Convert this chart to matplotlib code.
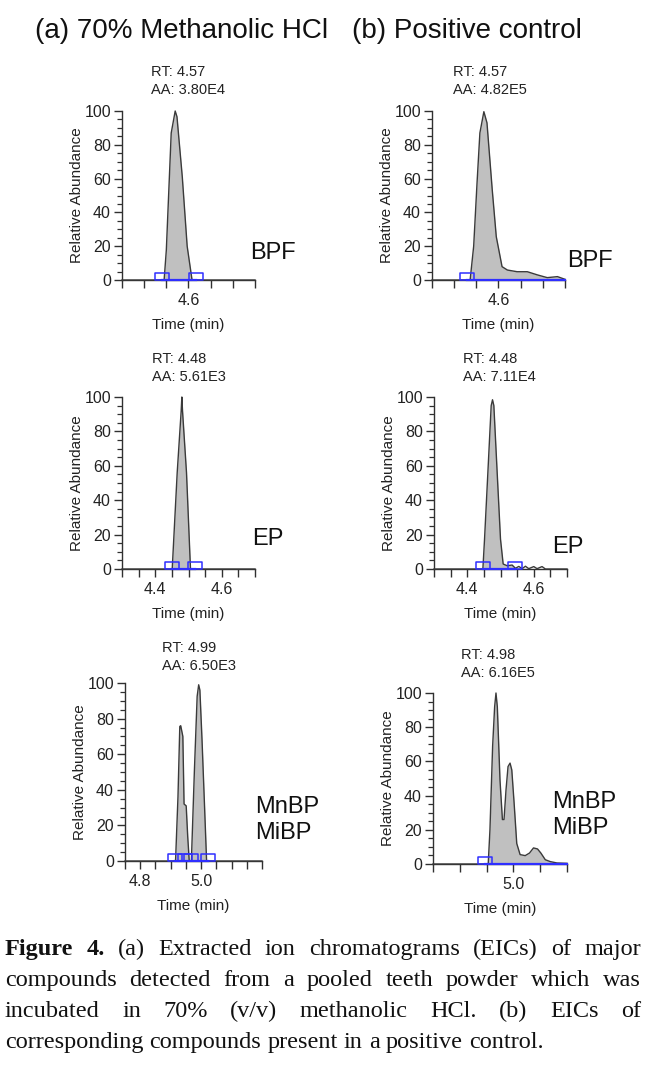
import numpy as np
import matplotlib
matplotlib.use("Agg")
import matplotlib.pyplot as plt
from matplotlib.path import Path

W, H = 652, 1068
plt.rcParams['font.family'] = ['Liberation Sans', 'DejaVu Sans']

# ---- data ----
bpf_a_t = [4.45, 4.541, 4.545, 4.550, 4.561, 4.570, 4.574, 4.586, 4.597, 4.608, 4.618, 4.75]
bpf_a_y = [0, 0, 0, 17.8, 87, 100, 96.6, 61, 20, 0, 0, 0]
bpf_a_marks = [4.541, 4.618]

bpf_b_t = [4.45, 4.530, 4.536, 4.544, 4.5515, 4.558, 4.567, 4.574, 4.586, 4.595, 4.608,
           4.620, 4.642, 4.665, 4.688, 4.710, 4.733, 4.75]
bpf_b_y = [0, 0, 0, 20, 57, 87, 99.6, 93, 53, 25.6, 7.9, 5.9, 4.9, 4.9, 3, 1.4, 2, 0.4]
bpf_b_marks = [4.530]

ep_a_t = [4.30, 4.449, 4.451, 4.466, 4.478, 4.480, 4.482, 4.494, 4.506, 4.519, 4.70]
ep_a_y = [0, 0, 0, 56, 92, 100, 92, 56, 0, 0, 0]
ep_a_marks = [4.451, 4.519]

ep_b_t = [4.30, 4.445, 4.447, 4.452, 4.462, 4.472, 4.476, 4.480, 4.490, 4.500, 4.508, 4.520,
          4.535, 4.545, 4.555, 4.565, 4.575, 4.585, 4.600, 4.610, 4.625, 4.635, 4.70]
ep_b_y = [0, 0, 0, 17.4, 56, 95, 98.4, 95, 56, 17.4, 2.9, 1.9,
          2.3, 0.4, 1.5, 0.2, 1.6, 0.2, 1.4, 0.2, 1.4, 0, 0]
ep_b_marks = [4.447, 4.545]

mbp_a_t = [4.75, 4.913, 4.916, 4.924, 4.930, 4.933, 4.940, 4.944, 4.951, 4.956, 4.961,
           4.968, 4.978, 4.987, 4.992, 4.996, 5.003, 5.011, 5.018, 5.022, 5.2]
mbp_a_y = [0, 0, 0, 36, 75.6, 76, 70, 32, 31, 13.7, 0,
           0, 51, 92.5, 99, 96, 68, 32, 0, 0, 0]
mbp_a_marks = [4.913, 4.946, 4.968, 5.022]

mbp_b_t = [4.70, 4.8925, 4.906, 4.9125, 4.9225, 4.930, 4.935, 4.940, 4.950, 4.959, 4.965,
           4.9725, 4.980, 4.9875, 4.994, 5.0025, 5.0125, 5.025, 5.044, 5.060, 5.075,
           5.090, 5.1025, 5.119, 5.1375, 5.1625, 5.20]
mbp_b_y = [0, 0, 0, 20, 69, 92, 100, 92, 49, 26, 26,
           43.5, 57, 59, 55, 36, 12, 5.5, 4.9, 6.4, 9.4,
           8.8, 6.4, 2.5, 1.4, 0.6, 0.4]
mbp_b_marks = [4.8925]

panels = [
    # box px (left, top, right, bottom), trace, integration marks, axis setup, texts
    dict(box=(122, 111, 255, 280), t=bpf_a_t, y=bpf_a_y, marks=bpf_a_marks, base_end=4.618,
         xlim=(4.45, 4.75), step=0.05, lab={4.6: '4.6'},
         info=('RT: 4.57', 'AA: 3.80E4', 151, 72), name=(['BPF'], 250, 253)),
    dict(box=(432, 111, 565, 280), t=bpf_b_t, y=bpf_b_y, marks=bpf_b_marks, base_end=4.75,
         xlim=(4.45, 4.75), step=0.05, lab={4.6: '4.6'},
         info=('RT: 4.57', 'AA: 4.82E5', 453, 72), name=(['BPF'], 567, 261)),
    dict(box=(122, 397, 255, 569), t=ep_a_t, y=ep_a_y, marks=ep_a_marks, base_end=4.519,
         xlim=(4.30, 4.70), step=0.05, lab={4.4: '4.4', 4.6: '4.6'},
         info=('RT: 4.48', 'AA: 5.61E3', 152, 359), name=(['EP'], 252, 539)),
    dict(box=(434, 397, 567, 569), t=ep_b_t, y=ep_b_y, marks=ep_b_marks, base_end=4.545,
         xlim=(4.30, 4.70), step=0.05, lab={4.4: '4.4', 4.6: '4.6'},
         info=('RT: 4.48', 'AA: 7.11E4', 463, 359), name=(['EP'], 552, 547)),
    dict(box=(125, 683, 262, 861), t=mbp_a_t, y=mbp_a_y, marks=mbp_a_marks, base_end=5.022,
         xlim=(4.75, 5.20), step=0.05, lab={4.8: '4.8', 5.0: '5.0'},
         info=('RT: 4.99', 'AA: 6.50E3', 162, 648), name=(['MnBP', 'MiBP'], 255, 807)),
    dict(box=(433, 693, 567, 864), t=mbp_b_t, y=mbp_b_y, marks=mbp_b_marks, base_end=5.20,
         xlim=(4.70, 5.20), step=0.1, lab={5.0: '5.0'},
         info=('RT: 4.98', 'AA: 6.16E5', 461, 655), name=(['MnBP', 'MiBP'], 552, 802)),
]

# open box marker sitting on the baseline
box_marker = Path([(-1, 0), (1, 0), (1, 1), (-1, 1), (-1, 0)],
                  [Path.MOVETO, Path.LINETO, Path.LINETO, Path.LINETO, Path.CLOSEPOLY])

fig = plt.figure(figsize=(W / 100, H / 100), dpi=100)


def fx(px):
    return px / W


def fy(py):
    return 1 - py / H


dark = '#303030'
blue = '#2f2fff'

for p in panels:
    l, t, r, b = p['box']
    ax = fig.add_axes([fx(l), fy(b), (r - l) / W, (b - t) / H])
    tt = np.array(p['t'])
    yy = np.array(p['y'])
    m0, m1 = p['marks'][0], p['base_end']
    inside = (tt >= m0 - 1e-9) & (tt <= m1 + 1e-9)
    ax.fill_between(tt, yy, where=inside, color='#c0c0c0', lw=0, zorder=1)
    ax.plot(tt, yy, color='#3a3a3a', lw=1.0, zorder=3, clip_on=False)
    ax.plot([m0, m1], [0, 0], color=blue, lw=1.6, zorder=4, clip_on=False)
    ax.plot(p['marks'], [0] * len(p['marks']), ls='none', marker=box_marker, ms=10.5,
            mfc='none', mec=blue, mew=1.1, zorder=5, clip_on=False)

    ax.set_xlim(*p['xlim'])
    ax.set_ylim(0, 100)
    x0, x1 = p['xlim']
    ticks = np.round(np.arange(x0, x1 + 1e-6, p['step']), 3)
    ax.set_xticks(ticks)
    ax.set_xticklabels([p['lab'].get(round(v, 2), '') for v in ticks])
    ax.set_yticks([0, 20, 40, 60, 80, 100])
    ax.set_yticks(np.arange(0, 101, 5), minor=True)
    ax.tick_params(axis='both', which='major', direction='out', length=6, width=1,
                   color=dark, labelcolor='#222222', labelsize=11.5, pad=2)
    ax.tick_params(axis='x', which='major', pad=3.5)
    ax.tick_params(axis='y', which='minor', direction='out', length=3.5, width=0.9, color=dark)
    for s in ['top', 'right']:
        ax.spines[s].set_visible(False)
    for s in ['left', 'bottom']:
        ax.spines[s].set_color(dark)
        ax.spines[s].set_linewidth(1.0)
    ax.patch.set_alpha(0)
    ax.set_xlabel('Time (min)', fontsize=11, color='#222222', labelpad=7)
    ax.set_ylabel('Relative Abundance', fontsize=11, color='#222222', labelpad=0)

    rt, aa, ix, iy = p['info']
    fig.text(fx(ix), fy(iy), rt, fontsize=10.5, color='#222222', va='center', ha='left')
    fig.text(fx(ix), fy(iy + 18), aa, fontsize=10.5, color='#222222', va='center', ha='left')

    names, nx, ny = p['name']
    for k, nm in enumerate(names):
        fig.text(fx(nx), fy(ny + 26 * k), nm, fontsize=17, color='#111111',
                 va='center', ha='left')

fig.text(fx(35), fy(31), '(a) 70% Methanolic HCl', fontsize=20, va='center', ha='left',
         color='#111111')
fig.text(fx(352), fy(31), '(b) Positive control', fontsize=20, va='center', ha='left',
         color='#111111')

# ---- caption, justified word by word ----
cap_lines = [
    [('Figure', 'bold'), ('4.', 'bold'), ('(a)', 'normal'), ('Extracted', 'normal'),
     ('ion', 'normal'), ('chromatograms', 'normal'), ('(EICs)', 'normal'), ('of', 'normal'),
     ('major', 'normal')],
    [(w, 'normal') for w in 'compounds detected from a pooled teeth powder which was'.split()],
    [(w, 'normal') for w in 'incubated in 70% (v/v) methanolic HCl. (b) EICs of'.split()],
    [(w, 'normal') for w in 'corresponding compounds present in a positive control.'.split()],
]
cap_base = [955, 986, 1017, 1048]
cap_left, cap_right = 5, 641
cap_size = 17.5

renderer = fig.canvas.get_renderer()
for li, words in enumerate(cap_lines):
    objs = []
    for w, wt in words:
        objs.append(fig.text(0, fy(cap_base[li]), w, fontsize=cap_size, weight=wt,
                             family=['Liberation Serif', 'DejaVu Serif'], va='baseline',
                             ha='left', color='#111111'))
    widths = [o.get_window_extent(renderer).width for o in objs]
    if li < len(cap_lines) - 1:
        gap = (cap_right - cap_left - sum(widths)) / (len(objs) - 1)
    else:
        gap = objs[0].get_fontsize() * 0.25 * 100 / 72
    x = cap_left
    for o, wd in zip(objs, widths):
        o.set_x(fx(x))
        x += wd + gap

fig.savefig('out.png', dpi=100)
